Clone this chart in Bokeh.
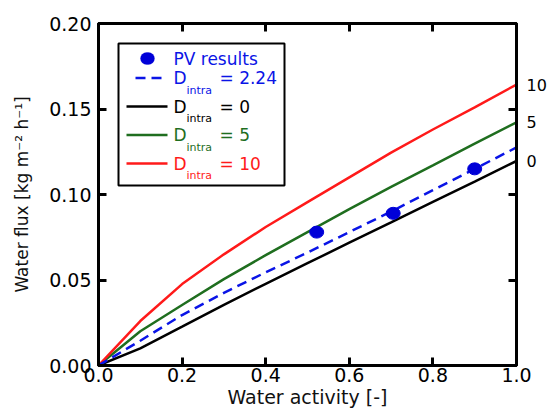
from bokeh.plotting import figure
from bokeh.models import (Range1d, FixedTicker, PrintfTickFormatter, LinearAxis,
                          Label, BoxAnnotation, Arrow)
from bokeh.embed import file_html
from bokeh.resources import INLINE

# ---------------- data ----------------
water_activity = [0.0, 0.1, 0.2, 0.3, 0.4, 0.5, 0.6, 0.7, 0.8, 0.9, 1.0]
flux_d0 = [0.0, 0.0100, 0.0227, 0.0355, 0.0478, 0.0598, 0.0718, 0.0837, 0.0957, 0.1076, 0.1196]
flux_d224 = [0.0, 0.0145, 0.0295, 0.0425, 0.0545, 0.0660, 0.0780, 0.0900, 0.1025, 0.1150, 0.1275]
flux_d5 = [0.0, 0.0200, 0.0354, 0.0505, 0.0645, 0.0780, 0.0915, 0.1045, 0.1170, 0.1297, 0.1422]
flux_d10 = [0.0, 0.0260, 0.0476, 0.0650, 0.0810, 0.0955, 0.1100, 0.1245, 0.1380, 0.1510, 0.1643]

pv_activity = [0.522, 0.705, 0.900]
pv_flux = [0.078, 0.089, 0.115]

x_ticks = [0.0, 0.2, 0.4, 0.6, 0.8, 1.0]
y_ticks = [0.0, 0.05, 0.10, 0.15, 0.20]

legend_values = ["2.24", "0", "5", "10"]
end_labels = ["10", "5", "0"]

BLUE = "#0a14e6"
DOT = "#0000d8"
BLACK = "#000000"
GREEN = "#1f6e1f"
RED = "#ff1a1a"
FONT = "DejaVu Sans"

p = figure(width=549, height=410,
           x_range=Range1d(0, 1), y_range=Range1d(0, 0.2),
           output_backend="svg", toolbar_location=None,
           min_border_left=98, min_border_top=23,
           min_border_right=32, min_border_bottom=43)
p.xgrid.visible = False
p.ygrid.visible = False
p.outline_line_color = "black"
p.outline_line_width = 3
p.background_fill_color = "white"
p.border_fill_color = "white"


def style_axis(ax):
    ax.axis_line_width = 3
    ax.major_tick_line_width = 3
    ax.major_tick_in = 8
    ax.major_tick_out = 0
    ax.minor_tick_line_color = None
    ax.major_label_text_font = FONT
    ax.major_label_text_font_size = "19px"
    ax.major_label_text_color = "black"
    ax.axis_label_text_font = FONT
    ax.axis_label_text_font_style = "normal"
    ax.axis_label_text_font_size = "19px"
    ax.axis_label_text_color = "#111111"


xa = p.xaxis[0]
style_axis(xa)
xa.ticker = FixedTicker(ticks=x_ticks)
xa.formatter = PrintfTickFormatter(format="%.1f")
xa.major_label_standoff = 2
xa.axis_label = "Water activity [-]"
xa.axis_label_standoff = 1

ya = p.yaxis[0]
style_axis(ya)
ya.ticker = FixedTicker(ticks=y_ticks)
ya.formatter = PrintfTickFormatter(format="%.2f")
ya.major_label_standoff = 7
ya.axis_label = "Water flux [kg m\u207b\u00b2 h\u207b\u00b9]"
ya.axis_label_text_font_size = "17px"
ya.axis_label_standoff = 14

# top axis: only inward tick marks (as minor ticks, so no labels are drawn)
top_axis = LinearAxis(ticker=FixedTicker(ticks=[], minor_ticks=x_ticks))
style_axis(top_axis)
top_axis.minor_tick_line_color = "black"
top_axis.minor_tick_line_width = 3
top_axis.minor_tick_in = 8
top_axis.minor_tick_out = 0
p.add_layout(top_axis, "above")

# right axis: inward tick marks + labels naming the curve ends
end_values = [flux_d10[-1], flux_d5[-1], flux_d0[-1]]
right_axis = LinearAxis(ticker=FixedTicker(ticks=end_values, minor_ticks=y_ticks),
                        major_label_overrides={v: t for v, t in zip(end_values, end_labels)})
style_axis(right_axis)
right_axis.major_tick_in = 0
right_axis.major_tick_out = 0
right_axis.major_label_standoff = 10
right_axis.major_label_text_font_size = "16px"
right_axis.minor_tick_line_color = "black"
right_axis.minor_tick_line_width = 3
right_axis.minor_tick_in = 8
right_axis.minor_tick_out = 0
p.add_layout(right_axis, "right")

# ---------------- curves ----------------
p.line(water_activity, flux_d0, line_color=BLACK, line_width=2.5)
p.line(water_activity, flux_d5, line_color=GREEN, line_width=2.5)
p.line(water_activity, flux_d10, line_color=RED, line_width=2.5)
p.line(water_activity, flux_d224, line_color=BLUE, line_width=2.5, line_dash="10 6")
p.ellipse(pv_activity, pv_flux, width=14, height=12,
          width_units="screen", height_units="screen",
          fill_color=DOT, line_color=DOT)

# ---------------- manual legend (screen units, frame-relative) ----------------
frame_h = 410 - 23 - 48   # frame height used for placing the legend


def ys(offset_from_top):
    return frame_h - offset_from_top


legend_top, legend_bottom, legend_left, legend_right = 17, 159, 20, 186
p.add_layout(BoxAnnotation(left=legend_left, right=legend_right,
                           top=ys(legend_top), bottom=ys(legend_bottom),
                           left_units="screen", right_units="screen",
                           top_units="screen", bottom_units="screen",
                           fill_color="white", fill_alpha=1.0,
                           line_color="black", line_width=2, line_alpha=1.0))
text_x = 75
row1 = 32
p.add_layout(BoxAnnotation(left=42, right=56, top=ys(row1 - 6), bottom=ys(row1 + 6),
                           left_units="screen", right_units="screen",
                           top_units="screen", bottom_units="screen",
                           fill_color=DOT, fill_alpha=1.0, line_color=DOT,
                           border_radius=6))
p.add_layout(Label(x=text_x, y=ys(row1), x_units="screen", y_units="screen",
                   text="PV results", text_baseline="middle",
                   text_font=FONT, text_font_size="17px", text_color=BLUE))

row_colors = [BLUE, BLACK, GREEN, RED]
row_dash = ["10 6", "solid", "solid", "solid"]
row_start = [37, 28, 28, 28]
for i, (val, col) in enumerate(zip(legend_values, row_colors)):
    y = ys(51.5 + i * 28.5)
    p.add_layout(Arrow(end=None, x_start=row_start[i], y_start=y, x_end=69, y_end=y,
                       start_units="screen", end_units="screen",
                       line_color=col, line_width=2.5, line_dash=row_dash[i]))
    p.add_layout(Label(x=text_x, y=y, x_units="screen", y_units="screen",
                       text="D", text_baseline="middle",
                       text_font=FONT, text_font_size="17px", text_color=col))
    p.add_layout(Label(x=text_x + 13, y=y - 12, x_units="screen", y_units="screen",
                       text="intra", text_baseline="middle",
                       text_font=FONT, text_font_size="11px", text_color=col))
    p.add_layout(Label(x=121, y=y, x_units="screen", y_units="screen",
                       text="= " + val, text_baseline="middle",
                       text_font=FONT, text_font_size="17px", text_color=col))

open("out.html", "w").write(file_html(p, INLINE))
